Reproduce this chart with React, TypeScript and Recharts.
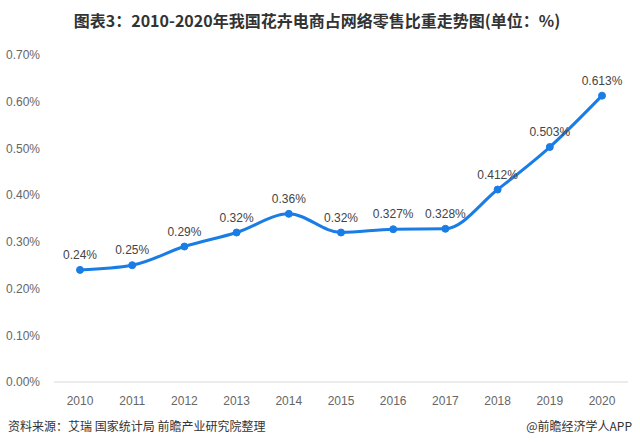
import { LineChart, Line, XAxis, YAxis, LabelList } from 'recharts';

const years = ['2010', '2011', '2012', '2013', '2014', '2015', '2016', '2017', '2018', '2019', '2020'];
const shares = [0.24, 0.25, 0.29, 0.32, 0.36, 0.32, 0.327, 0.328, 0.412, 0.503, 0.613];
const shareLabels = ['0.24%', '0.25%', '0.29%', '0.32%', '0.36%', '0.32%', '0.327%', '0.328%', '0.412%', '0.503%', '0.613%'];
const yTicks = [0, 0.1, 0.2, 0.3, 0.4, 0.5, 0.6, 0.7];

const chartData = years.map((year, i) => ({ year, share: shares[i], label: shareLabels[i] }));

const font = '"Liberation Sans", Arial, sans-serif';
const blue = '#1a7de6';

const App = () => {
  return (
    <div style={{ position: 'absolute', left: 0, top: 0, width: 640, height: 446, background: '#fff', fontFamily: font }}>
      <div
        style={{
          position: 'absolute',
          top: 8,
          left: 0,
          width: 634,
          textAlign: 'center',
          fontFamily: '"Noto Sans CJK SC", sans-serif',
          fontWeight: 'bold',
          fontSize: 16,
          color: '#333',
        }}
      >
        图表3：2010-2020年我国花卉电商占网络零售比重走势图(单位：%)
      </div>
      <LineChart width={640} height={446} data={chartData} margin={{ top: 55, right: 12, bottom: 34, left: 0 }}>
        <XAxis
          dataKey="year"
          padding={{ left: 26, right: 26 }}
          axisLine={{ stroke: '#d9d9d9' }}
          tickLine={false}
          tick={{ fill: '#666', fontSize: 12, fontFamily: font }}
          tickMargin={8}
        />
        <YAxis
          width={54}
          domain={[0, 0.7]}
          ticks={yTicks}
          axisLine={false}
          tickLine={false}
          tick={{ fill: '#666', fontSize: 12, fontFamily: font }}
          tickFormatter={(v: number) => v.toFixed(2) + '%'}
          tickMargin={8}
        />
        <Line
          type="monotone"
          dataKey="share"
          stroke={blue}
          strokeWidth={3}
          dot={{ r: 3.5, fill: blue, stroke: blue, strokeWidth: 1 }}
          isAnimationActive={false}
        >
          <LabelList dataKey="label" position="top" offset={11} fill="#444" fontSize={12} fontFamily={font} />
        </Line>
      </LineChart>
      <div style={{ position: 'absolute', left: 8, top: 417, fontSize: 12, color: '#333', fontFamily: '"Noto Sans CJK SC", sans-serif' }}>
        资料来源：艾瑞 国家统计局 前瞻产业研究院整理
      </div>
      <div style={{ position: 'absolute', right: 8, top: 417, fontSize: 12, color: '#333', fontFamily: '"Noto Sans CJK SC", sans-serif' }}>
        @前瞻经济学人APP
      </div>
    </div>
  );
};

export default App;
